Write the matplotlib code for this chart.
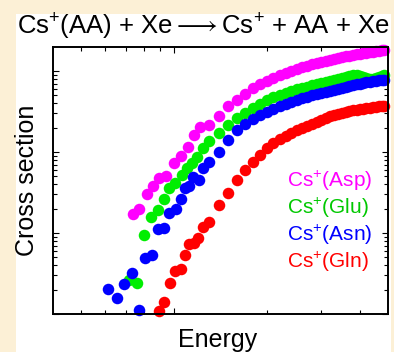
import matplotlib
matplotlib.use("Agg")
import matplotlib.pyplot as plt
from matplotlib.patches import Rectangle
from matplotlib.ticker import LogLocator, NullFormatter, FixedLocator

plt.rcParams['font.family'] = ['Liberation Sans', 'DejaVu Sans']
plt.rcParams['mathtext.fontset'] = 'custom'
plt.rcParams['mathtext.rm'] = 'Liberation Sans'
plt.rcParams['mathtext.it'] = 'Liberation Sans:italic'
plt.rcParams['mathtext.bf'] = 'Liberation Sans:bold'

# Collision energy grid shared by the high-energy part of every series
E_HIGH = [1.3, 1.4, 1.5, 1.6, 1.7, 1.8, 1.9, 2.0, 2.1, 2.2, 2.3, 2.4, 2.5, 2.6,
          2.7, 2.8, 2.9, 3.0, 3.1, 3.2, 3.3, 3.4, 3.5, 3.6, 3.7, 3.8, 3.9, 4.0,
          4.1, 4.2, 4.3, 4.4, 4.5, 4.6, 4.7, 4.8]

# Cs+(Asp)
asp_energy = [0.737, 0.770, 0.818, 0.855, 0.894, 0.942, 1.000, 1.054, 1.110,
              1.161, 1.214] + E_HIGH
asp_sigma = [17.2, 19.8, 30.3, 38.0, 47.8, 50.6, 73.1, 89.2, 115, 162, 203,
             215, 278, 370, 439, 520, 617, 691, 753, 820, 893, 945, 1000,
             1058, 1120, 1152, 1220, 1256, 1292, 1329, 1368, 1407, 1447, 1489,
             1532, 1532, 1576, 1622, 1622, 1668, 1668, 1717, 1717, 1766, 1766,
             1817, 1817]

# Cs+(Glu)
glu_energy = [0.715, 0.759, 0.800, 0.843, 0.888, 0.928, 0.963, 1.007, 1.061,
              1.102, 1.144, 1.187, 1.241] + E_HIGH
glu_sigma = [2.63, 2.41, 9.45, 15.8, 19.2, 26.3, 35.9, 41.4, 52.0, 63.5, 73.1,
             86.8, 112,
             137, 172, 215, 263, 303, 349, 391, 439, 478, 505, 535, 566, 600,
             617, 635, 672, 691, 711, 731, 753, 774, 797, 820, 843, 868, 893,
             893, 868, 843, 820, 797, 797, 820, 843, 868, 893]

# Cs+(Asn)
asn_energy = [0.611, 0.654, 0.689, 0.731, 0.770, 0.806, 0.849, 0.888, 0.928,
              0.963, 1.015, 1.054, 1.085, 1.118, 1.152, 1.205, 1.241] + E_HIGH
asn_sigma = [2.04, 1.58, 2.35, 3.21, 1.12, 4.91, 5.35, 11.2, 11.5, 17.7, 19.8,
             26.3, 35.9, 38.0, 49.1, 45.1, 63.5,
             75.2, 100, 141, 187, 222, 256, 286, 312, 340, 370, 391, 414, 439,
             464, 478, 505, 520, 535, 551, 566, 583, 600, 617, 635, 653, 672,
             691, 691, 711, 731, 731, 753, 753, 774, 774, 774]

# Cs+(Gln)
gln_energy = [0.894, 0.928, 0.971, 1.007, 1.054, 1.085, 1.118, 1.161, 1.196,
              1.241] + E_HIGH
gln_sigma = [1.09, 1.41, 2.41, 3.40, 3.59, 5.35, 7.31, 7.53, 8.68, 11.9,
             13.7, 22.2, 31.2, 45.1, 60.0, 75.2, 91.8, 112, 129, 145, 158, 172,
             187, 198, 209, 222, 235, 248, 263, 278, 286, 294, 303, 312, 321,
             330, 330, 340, 340, 349, 349, 359, 359, 370, 370, 370]

series = [
    ("Cs$^{+}$(Asp)", asp_energy, asp_sigma, "#FF00FF"),
    ("Cs$^{+}$(Glu)", glu_energy, glu_sigma, "#00EE00"),
    ("Cs$^{+}$(Asn)", asn_energy, asn_sigma, "#0000FF"),
    ("Cs$^{+}$(Gln)", gln_energy, gln_sigma, "#FF0000"),
]
label_colors = ["#FF00FF", "#00C800", "#0000FF", "#FF0000"]

W, H = 394, 352
fig = plt.figure(figsize=(W / 100, H / 100), dpi=100)
fig.patch.set_facecolor("#FCF0D6")
panel = Rectangle((16 / W, 0), (391 - 16) / W, (H - 14) / H,
                  transform=fig.transFigure, facecolor="white",
                  edgecolor="none", zorder=-10)
fig.patches.append(panel)

ax = fig.add_axes([53 / W, 1 - 314 / H, (388 - 53) / W, (314 - 47) / H])
ax.set_zorder(5)
ax.set_facecolor("white")
ax.set_xscale("log")
ax.set_yscale("log")
ax.set_xlim(0.406, 4.93)
ax.set_ylim(1.0, 1978)

for label, e, s, c in series:
    ax.plot(e, s, linestyle="none", marker="o", markersize=8.3,
            markerfacecolor=c, markeredgewidth=0, clip_on=False, zorder=3)

ax.xaxis.set_major_locator(FixedLocator([1.0]))
ax.xaxis.set_minor_locator(FixedLocator([0.5, 0.6, 0.7, 0.8, 0.9, 2, 3, 4]))
ax.yaxis.set_major_locator(LogLocator(base=10, numticks=10))
ax.yaxis.set_minor_locator(LogLocator(base=10, subs=range(2, 10), numticks=20))
for axis in (ax.xaxis, ax.yaxis):
    axis.set_major_formatter(NullFormatter())
    axis.set_minor_formatter(NullFormatter())
ax.tick_params(which="both", direction="in", top=True, right=True,
               labelbottom=False, labelleft=False, width=0.8, color="black")
ax.tick_params(which="major", length=4.5)
ax.tick_params(which="minor", length=3.0)
for sp in ax.spines.values():
    sp.set_linewidth(1.4)
    sp.set_zorder(4)

fig.text(203.5 / W, 1 - 35 / H,
         r"Cs$^{+}$(AA) + Xe$\longrightarrow$Cs$^{+}$ + AA + Xe",
         ha="center", va="baseline", fontsize=18.5, color="black")
fig.text(27 / W, 1 - 180 / H, "Cross section", rotation=90,
         ha="center", va="center", fontsize=18, color="black")
fig.text(218 / W, 1 - 347 / H, "Energy", ha="center", va="baseline",
         fontsize=18, color="black")

baselines = [187, 214, 241, 268]
for (label, e, s, c), lc, yb in zip(series, label_colors, baselines):
    ax.text(287 / W, 1 - yb / H, label, ha="left", va="baseline",
            fontsize=15, color=lc, transform=fig.transFigure, zorder=6)

fig.savefig("out.png", dpi=100, facecolor=fig.get_facecolor())
